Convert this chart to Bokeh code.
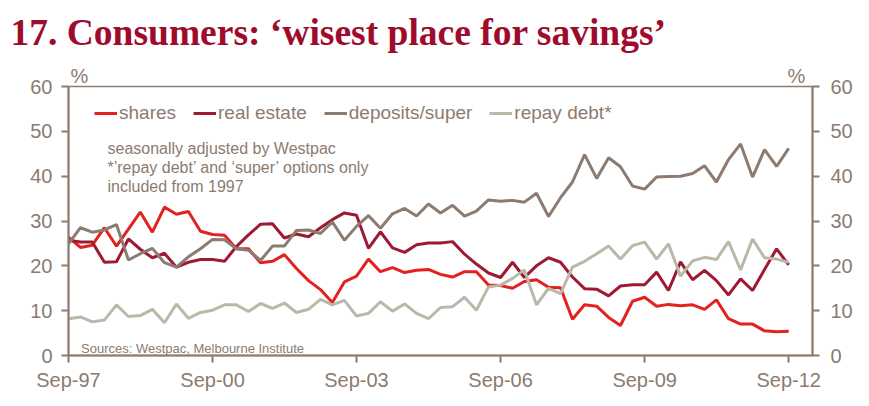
from datetime import datetime
import pandas as pd
from bokeh.plotting import figure
from bokeh.models import (Range1d, LinearAxis, FixedTicker, DatetimeTickFormatter,
                          Legend, LegendItem, Label)
from bokeh.embed import file_html
from bokeh.resources import INLINE

# ---------------- data ----------------
dates = pd.date_range("1997-09-01", periods=61, freq="3MS")

shares = [26.4, 24.1, 24.6, 28.5, 24.4, 28.2, 32.0, 27.5, 33.1, 31.5, 32.1, 27.7, 27.0, 26.8,
          23.8, 23.8, 20.7, 21.0, 22.5, 19.4, 16.7, 14.7, 11.8, 16.4, 17.7, 21.5, 18.7, 19.6,
          18.5, 19.0, 19.2, 18.1, 17.5, 18.7, 18.7, 15.7, 15.6, 15.0, 16.5, 16.9, 15.2, 15.1,
          8.1, 11.3, 11.0, 8.5, 6.7, 12.1, 13.0, 11.0, 11.4, 11.1, 11.3, 10.3, 12.4, 8.2,
          7.0, 7.0, 5.5, 5.3, 5.4]
real_estate = [25.7, 25.3, 25.3, 20.8, 20.9, 26.0, 23.7, 21.8, 22.8, 19.7, 20.8, 21.4, 21.4,
               21.0, 24.3, 26.9, 29.3, 29.4, 26.2, 27.1, 26.5, 28.5, 30.3, 31.8, 31.3, 23.9,
               27.6, 24.0, 23.0, 24.7, 25.1, 25.1, 25.4, 22.6, 20.4, 18.4, 17.4, 20.8, 17.4,
               20.0, 21.8, 20.8, 17.5, 14.9, 14.8, 13.3, 15.5, 15.8, 15.8, 18.6, 14.5, 20.9,
               16.9, 19.0, 16.7, 13.5, 17.1, 14.5, 19.2, 23.8, 20.2]
deposits_super = [24.9, 28.5, 27.5, 28.0, 29.2, 21.3, 22.7, 23.9, 20.7, 19.7, 22.0, 23.8, 25.9,
                  25.8, 23.8, 23.5, 21.2, 24.4, 24.4, 27.9, 28.0, 27.2, 29.8, 25.7, 28.8, 31.2,
                  28.4, 31.6, 32.8, 31.1, 33.8, 31.8, 33.5, 31.1, 32.2, 34.7, 34.4, 34.6, 34.2,
                  36.2, 31.0, 35.2, 38.7, 44.8, 39.5, 44.1, 42.1, 37.8, 37.1, 39.8, 39.9, 40.0,
                  40.6, 42.3, 38.7, 43.7, 47.2, 39.8, 45.9, 42.2, 46.2]
repay_debt = [8.2, 8.6, 7.5, 7.9, 11.3, 8.7, 8.9, 10.3, 7.3, 11.5, 8.3, 9.6, 10.1, 11.3, 11.3,
              9.8, 11.6, 10.5, 11.7, 9.6, 10.3, 12.5, 11.3, 12.3, 8.8, 9.4, 12.0, 9.9, 11.5, 9.4,
              8.2, 10.7, 10.9, 13.0, 10.1, 15.3, 15.7, 17.2, 19.1, 11.3, 15.0, 13.8, 19.7, 21.0,
              22.7, 24.4, 21.5, 24.5, 25.3, 21.5, 24.9, 17.7, 21.1, 21.9, 21.4, 25.4, 19.1, 26.0,
              21.8, 21.5, 20.8]

series_names = ["shares", "real estate", "deposits/super", "repay debt*"]
xtick_dates = ["1997-09-01", "2000-09-01", "2003-09-01", "2006-09-01", "2009-09-01", "2012-09-01"]
yticks = [0, 10, 20, 30, 40, 50, 60]
unit_label = "%"

title_text = "17. Consumers: \u2018wisest place for savings\u2019"
note_lines = ["seasonally adjusted by Westpac",
              "*\u2019repay debt\u2019 and \u2018super\u2019 options only",
              "included from 1997"]
source_text = "Sources: Westpac, Melbourne Institute"

# ---------------- style ----------------
C_SHARES = "#E3211F"
C_REAL = "#9E1A32"
C_DEP = "#8C7B70"
C_REPAY = "#BAB8A8"
C_AXIS = "#8C7B70"
C_TEXT = "#8C7B70"
C_TITLE = "#9E0B2C"
FONT = "Liberation Sans"

x_start = datetime(1997, 9, 1)
x_end = datetime(2013, 3, 1)

W, H = 869, 406
FR_L, FR_R, FR_T, FR_B = 68.0, 812.0, 86.0, 355.0
p = figure(width=W, height=H, output_backend="svg", toolbar_location=None,
           x_axis_type="datetime",
           x_range=Range1d(x_start, x_end), y_range=Range1d(0, 60),
           min_border_left=int(FR_L), min_border_right=int(W - FR_R),
           min_border_top=int(FR_T), min_border_bottom=int(H - FR_B))
p.background_fill_color = "white"
p.border_fill_color = "white"
p.xgrid.visible = False
p.ygrid.visible = False
p.outline_line_color = C_AXIS
p.outline_line_width = 1.5

# title
p.title.text = title_text
p.title.text_font = "Liberation Serif"
p.title.text_font_style = "bold"
p.title.text_font_size = "37.5px"
p.title.text_color = C_TITLE
p.title.align = "left"
p.title.offset = -(FR_L - 10)
p.title.standoff = 18

def style_axis(ax):
    ax.axis_line_color = C_AXIS
    ax.axis_line_width = 2
    ax.major_tick_line_color = C_AXIS
    ax.major_tick_line_width = 2
    ax.major_tick_out = 7
    ax.major_tick_in = 0
    ax.minor_tick_line_color = None
    ax.major_label_text_color = C_TEXT
    ax.major_label_text_font = FONT
    ax.major_label_text_font_size = "20px"

xticks_ms = [pd.Timestamp(d).value / 1e6 for d in xtick_dates]
p.xaxis.ticker = FixedTicker(ticks=xticks_ms)
fmt = "%b-%y"
p.xaxis.formatter = DatetimeTickFormatter(days=fmt, months=fmt, years=fmt)
p.xaxis.major_label_standoff = 6
style_axis(p.xaxis[0])

p.yaxis.ticker = FixedTicker(ticks=yticks)
p.yaxis.major_label_standoff = 9
style_axis(p.yaxis[0])

ry = LinearAxis(ticker=FixedTicker(ticks=yticks), major_label_standoff=11)
style_axis(ry)
p.add_layout(ry, "right")

# "%" unit markers above both value axes (helper axis in frame pixels)
p.extra_x_ranges = {"px": Range1d(0, FR_R - FR_L)}
pct_pos = [11, 728]
pct_axis = LinearAxis(x_range_name="px", ticker=FixedTicker(ticks=pct_pos),
                      major_label_overrides={k: unit_label for k in pct_pos},
                      axis_line_color=None, major_tick_line_color=None,
                      minor_tick_line_color=None, major_tick_out=0, major_tick_in=0,
                      major_label_standoff=0, major_label_text_color=C_TEXT,
                      major_label_text_font=FONT, major_label_text_font_size="20px")
p.add_layout(pct_axis, "above")

lw = 3
r_sh = p.line(dates, shares, line_color=C_SHARES, line_width=lw)
r_re = p.line(dates, real_estate, line_color=C_REAL, line_width=lw)
r_dp = p.line(dates, deposits_super, line_color=C_DEP, line_width=lw)
r_rp = p.line(dates, repay_debt, line_color=C_REPAY, line_width=lw)

legend = Legend(items=[LegendItem(label=series_names[0], renderers=[r_sh]),
                       LegendItem(label=series_names[1], renderers=[r_re]),
                       LegendItem(label=series_names[2], renderers=[r_dp]),
                       LegendItem(label=series_names[3], renderers=[r_rp])],
                orientation="horizontal", location=(26, 231),
                background_fill_alpha=0, border_line_alpha=0,
                label_text_font=FONT, label_text_font_size="19px", label_text_color=C_TEXT,
                glyph_width=23, glyph_height=20, label_height=20, label_standoff=2,
                spacing=17, padding=0, margin=0)
p.add_layout(legend)

# ---------------- text annotations inside the frame ----------------
xs_ms = pd.Timestamp(x_start).value / 1e6
xe_ms = pd.Timestamp(x_end).value / 1e6

def px_x(px):
    return xs_ms + (px - FR_L) / (FR_R - FR_L) * (xe_ms - xs_ms)

def px_y(py):
    return (FR_B - py) / (FR_B - FR_T) * 60.0

def add_text(text, px, py, size, color=C_TEXT, font=FONT, align="left",
             baseline="alphabetic"):
    p.add_layout(Label(x=px_x(px), y=px_y(py), text=text, text_font=font,
                       text_font_size=size, text_color=color, text_align=align,
                       text_baseline=baseline))

for i, ln in enumerate(note_lines):
    add_text(ln, 107, 147.5 + 19 * i, "16px")
add_text(source_text, 80.5, 348.3, "13px")

open("out.html", "w").write(file_html(p, INLINE))
